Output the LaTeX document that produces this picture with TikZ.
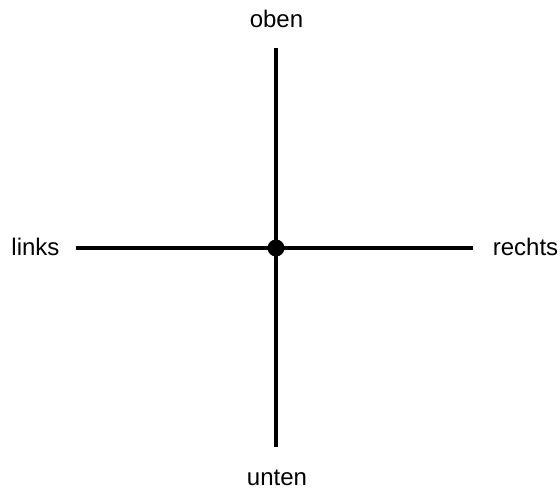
\documentclass[tikz,border=0pt]{standalone}
\usepackage{fontspec}
\setmainfont{Liberation Sans}
\usetikzlibrary{positioning, calc}

\begin{document}
\begin{tikzpicture}[
			x=1pt, y=-1pt,
			% --- Styles ---
			axisline/.style={
				draw, line width=4pt, color=black
			},
			dirlabel/.style={
				inner sep=0pt, anchor=base, font=\fontsize{24}{28}\selectfont
			}
			]
			
			% --- Canvas ---
			\useasboundingbox (0,0) rectangle (560,489);
			
			% --- 1. Centre and line ends ---
			\coordinate (centre) at (276,248);
			\coordinate (top_end) at (276,48);
			\coordinate (bottom_end) at (276,447);
			\coordinate (left_end) at (76,248);
			\coordinate (right_end) at (473,248);
			
			% --- 2. Direction labels ---
			\node [dirlabel] (oben) at (276.5,28) {oben};
			\node [dirlabel] (unten) at (277,485) {unten};
			\node [dirlabel] (links) at (35.5,256) {links};
			\node [dirlabel] (rechts) at (525.5,256) {rechts};
			
			% --- 3. Cross ---
			\draw [axisline] (top_end) -- (bottom_end);
			\draw [axisline] (left_end) -- (right_end);
			
			% Dot
			\fill [black] (centre) circle (8.5pt);
			
		\end{tikzpicture}
\end{document}
